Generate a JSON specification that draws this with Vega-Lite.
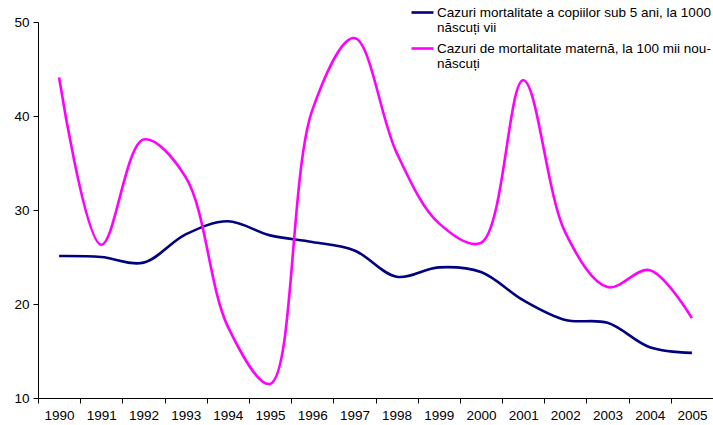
{
  "$schema": "https://vega.github.io/schema/vega-lite/v6.json",
  "width": 675,
  "height": 376,
  "autosize": "none",
  "padding": {"left": 38, "top": 22, "right": 0, "bottom": 27},
  "background": "white",
  "config": {
    "view": {"stroke": null},
    "font": "Liberation Sans"
  },
  "data": {
    "values": [
      {"year": "1990", "series": "A", "value": 25.1},
      {"year": "1991", "series": "A", "value": 25.0},
      {"year": "1992", "series": "A", "value": 24.4},
      {"year": "1993", "series": "A", "value": 27.4},
      {"year": "1994", "series": "A", "value": 28.8},
      {"year": "1995", "series": "A", "value": 27.3},
      {"year": "1996", "series": "A", "value": 26.6},
      {"year": "1997", "series": "A", "value": 25.7},
      {"year": "1998", "series": "A", "value": 22.9},
      {"year": "1999", "series": "A", "value": 23.9},
      {"year": "2000", "series": "A", "value": 23.4},
      {"year": "2001", "series": "A", "value": 20.4},
      {"year": "2002", "series": "A", "value": 18.3},
      {"year": "2003", "series": "A", "value": 18.0},
      {"year": "2004", "series": "A", "value": 15.4},
      {"year": "2005", "series": "A", "value": 14.8},
      {"year": "1990", "series": "B", "value": 44.1},
      {"year": "1991", "series": "B", "value": 26.3},
      {"year": "1992", "series": "B", "value": 37.5},
      {"year": "1993", "series": "B", "value": 33.5},
      {"year": "1994", "series": "B", "value": 17.6},
      {"year": "1995", "series": "B", "value": 11.5},
      {"year": "1996", "series": "B", "value": 40.6},
      {"year": "1997", "series": "B", "value": 48.3},
      {"year": "1998", "series": "B", "value": 36.1},
      {"year": "1999", "series": "B", "value": 28.6},
      {"year": "2000", "series": "B", "value": 26.5},
      {"year": "2001", "series": "B", "value": 43.8},
      {"year": "2002", "series": "B", "value": 27.6},
      {"year": "2003", "series": "B", "value": 21.8},
      {"year": "2004", "series": "B", "value": 23.6},
      {"year": "2005", "series": "B", "value": 18.5}
    ]
  },
  "mark": {"type": "line", "interpolate": "catmull-rom", "strokeWidth": 2.6},
  "encoding": {
    "x": {
      "field": "year",
      "type": "ordinal",
      "scale": {"type": "band", "paddingInner": 0, "paddingOuter": 0},
      "axis": {
        "title": null,
        "labelAngle": 0,
        "tickBand": "extent",
        "domainColor": "#000000",
        "tickColor": "#000000",
        "tickSize": 5,
        "labelColor": "#000000",
        "labelFontSize": 13.5,
        "labelPadding": 5,
        "grid": false
      }
    },
    "y": {
      "field": "value",
      "type": "quantitative",
      "scale": {"domain": [10, 50], "nice": false, "zero": false},
      "axis": {
        "title": null,
        "values": [10, 20, 30, 40, 50],
        "grid": false,
        "domainColor": "#000000",
        "tickColor": "#000000",
        "tickSize": 5,
        "labelColor": "#000000",
        "labelFontSize": 13.5,
        "labelPadding": 4
      }
    },
    "color": {
      "field": "series",
      "type": "nominal",
      "scale": {"domain": ["A", "B"], "range": ["#000080", "#FF00FF"]},
      "legend": {
        "title": null,
        "orient": "none",
        "legendX": 372,
        "legendY": -22,
        "padding": 0,
        "symbolType": "stroke",
        "symbolSize": 484,
        "symbolStrokeWidth": 2.6,
        "labelFontSize": 13.5,
        "labelLineHeight": 15,
        "labelColor": "#000000",
        "labelLimit": 400,
        "rowPadding": 1,
        "labelOffset": 2,
        "labelExpr": "datum.label == 'A' ? ['Cazuri mortalitate a copiilor sub 5 ani, la 1000', 'născuți vii'] : ['Cazuri de mortalitate maternă, la 100 mii nou-', 'născuți']"
      }
    }
  }
}
